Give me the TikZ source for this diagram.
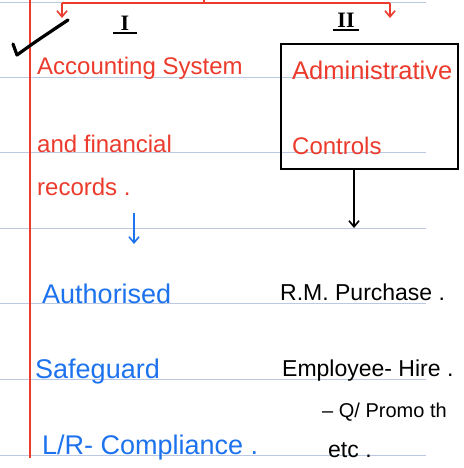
\documentclass[tikz,border=0pt]{standalone}
\usepackage{fontspec}
\setmainfont{Liberation Sans}
\newfontfamily\numfont{Liberation Serif}
\usetikzlibrary{arrows.meta}
\definecolor{pen red}{HTML}{EC3B2C}
\definecolor{pen blue}{HTML}{1D72EE}
\definecolor{rule blue}{HTML}{B9C9E2}
\tikzset{
  redtxt/.style={text=pen red, anchor=west, inner sep=0pt, font=\fontsize{24}{24}\selectfont},
  bluetxt/.style={text=pen blue, anchor=west, inner sep=0pt, font=\fontsize{27}{27}\selectfont},
  blacktxt/.style={text=black, anchor=west, inner sep=0pt, font=\fontsize{23}{23}\selectfont},
  ruleline/.style={draw=rule blue, line width=0.8pt},
  penarrow/.style={line width=1.6pt, -{Straight Barb[length=6pt,width=10pt]}},
  numeral/.style={inner sep=0pt, font=\numfont\bfseries\fontsize{22}{22}\selectfont}
}
\begin{document}
\begin{tikzpicture}[x=1pt,y=-1pt]
\useasboundingbox (0,0) rectangle (463,468);
\clip (0,0) rectangle (463,468);
\fill[white] (0,0) rectangle (463,468);
% ruled lines
\foreach \yy in {2,77,152,228,303,379,455}
  \draw[ruleline] (0,\yy) -- (426,\yy);
% margin
\draw[pen red, line width=1.8pt] (30,0) -- (30,458);
% red bracket
\coordinate (bl) at (62,3);
\coordinate (br) at (390,3);
\coordinate (blt) at (62,18);
\coordinate (brt) at (390,18);
\draw[pen red, line width=1.6pt] (bl) -- (br);
\draw[pen red, line width=1.6pt] (204,3) -- (204,0);
\draw[pen red, penarrow] (bl) -- (blt);
\draw[pen red, penarrow] (br) -- (brt);
% numerals
\node[numeral] (n1) at (125,23) {I};
\draw[line width=1.6pt] (113,33) -- (137,33);
\node[numeral] (n2) at (346,20) {II};
\draw[line width=1.6pt] (333,30) -- (359,30);
% check mark
\draw[line width=3.2pt, line cap=round, line join=round] (13,44) -- (17,55) .. controls (35,42) .. (68,20);
% column I
\node[redtxt] (t1) at (37,68) {Accounting System};
\node[redtxt] (t2) at (37,144) {and financial};
\node[redtxt] (t3) at (37,187) {records .};
% column II box
\node[draw, line width=1.6pt, minimum width=177pt, minimum height=125pt, anchor=north west, inner sep=0pt] (box) at (280,43) {};
\node[redtxt, font=\fontsize{25.5}{25.5}\selectfont] (t4) at (292,70) {Administrative};
\node[redtxt] (t5) at (292,146) {Controls};
\coordinate (boxend) at (354,228);
\draw[penarrow] (box.south -| boxend) -- (boxend);
% blue arrow
\coordinate (ba1) at (134,213);
\coordinate (ba2) at (134,244);
\draw[pen blue, penarrow] (ba1) -- (ba2);
% blue list
\node[bluetxt] (b1) at (42,294) {Authorised};
\node[bluetxt] (b2) at (35,372) {Safeguard};
\node[bluetxt] (b3) at (42,448) {L/R- Compliance .};
% black list
\node[blacktxt] (k1) at (280,292) {R.M. Purchase .};
\node[blacktxt] (k2) at (282,371) {Employee- Hire .};
\node[blacktxt, font=\fontsize{20}{20}\selectfont] (k3) at (322,412) {– Q/ Promo th};
\node[blacktxt] (k4) at (328,450) {etc .};
\end{tikzpicture}
\end{document}
